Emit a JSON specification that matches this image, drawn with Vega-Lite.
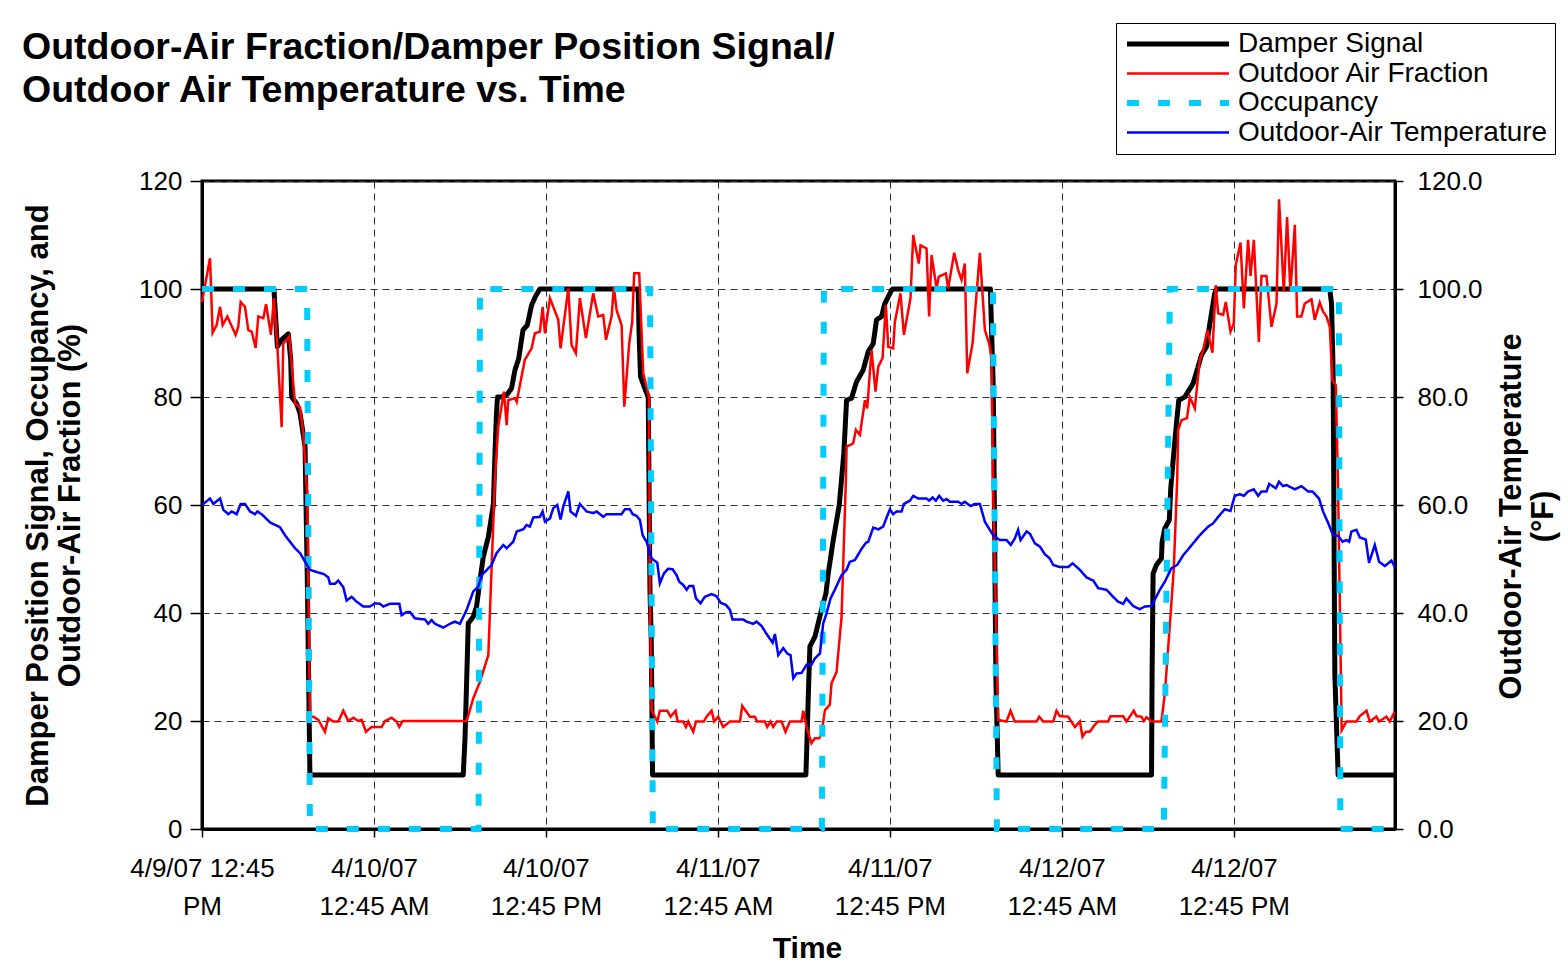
{
"$schema": "https://vega.github.io/schema/vega-lite/v6.json",
"width": 1193, "height": 648, "autosize": "none",
"padding": {"left": 202, "top": 181, "right": 173, "bottom": 146},
"background": "white",
"config": {"font": "Liberation Sans", "view": {"stroke": "black", "strokeWidth": 3}},
"title": {"text": ["Outdoor-Air Fraction/Damper Position Signal/", "Outdoor Air Temperature vs. Time"], "anchor": "start", "frame": "group", "dx": -180, "fontSize": 37.5, "fontWeight": "bold", "font": "Liberation Sans", "lineHeight": 43, "offset": -87, "color": "black"},
"data": {"values": [
{"s":"Damper Signal","t":0,"v":100},{"s":"Damper Signal","t":5.02,"v":100},{"s":"Damper Signal","t":5.26,"v":89.3},{"s":"Damper Signal","t":5.56,"v":90.6},{"s":"Damper Signal","t":6.02,"v":91.7},{"s":"Damper Signal","t":6.19,"v":86.9},{"s":"Damper Signal","t":6.26,"v":80},{"s":"Damper Signal","t":6.6,"v":78.8},{"s":"Damper Signal","t":6.84,"v":77},{"s":"Damper Signal","t":7.19,"v":70.8},{"s":"Damper Signal","t":7.35,"v":46.1},{"s":"Damper Signal","t":7.53,"v":10},{"s":"Damper Signal","t":18.23,"v":10},{"s":"Damper Signal","t":18.35,"v":16.5},{"s":"Damper Signal","t":18.47,"v":27.6},{"s":"Damper Signal","t":18.58,"v":38.1},{"s":"Damper Signal","t":18.93,"v":39.3},{"s":"Damper Signal","t":19.16,"v":41.2},{"s":"Damper Signal","t":19.4,"v":46.1},{"s":"Damper Signal","t":19.63,"v":50.4},{"s":"Damper Signal","t":19.98,"v":54.1},{"s":"Damper Signal","t":20.33,"v":60},{"s":"Damper Signal","t":20.45,"v":70},{"s":"Damper Signal","t":20.55,"v":77},{"s":"Damper Signal","t":20.62,"v":80},{"s":"Damper Signal","t":20.9,"v":80},{"s":"Damper Signal","t":21.3,"v":80.5},{"s":"Damper Signal","t":21.6,"v":81.6},{"s":"Damper Signal","t":21.84,"v":85},{"s":"Damper Signal","t":22.1,"v":87.1},{"s":"Damper Signal","t":22.4,"v":92.4},{"s":"Damper Signal","t":22.7,"v":93.3},{"s":"Damper Signal","t":23.0,"v":97},{"s":"Damper Signal","t":23.3,"v":98.8},{"s":"Damper Signal","t":23.58,"v":100},{"s":"Damper Signal","t":30.44,"v":100},{"s":"Damper Signal","t":30.5,"v":91.8},{"s":"Damper Signal","t":30.6,"v":83.8},{"s":"Damper Signal","t":30.9,"v":81.6},{"s":"Damper Signal","t":31.14,"v":80},{"s":"Damper Signal","t":31.26,"v":44.3},{"s":"Damper Signal","t":31.35,"v":35},{"s":"Damper Signal","t":31.44,"v":10},{"s":"Damper Signal","t":42.14,"v":10},{"s":"Damper Signal","t":42.19,"v":14},{"s":"Damper Signal","t":42.3,"v":23.9},{"s":"Damper Signal","t":42.42,"v":33.8},{"s":"Damper Signal","t":42.77,"v":35.6},{"s":"Damper Signal","t":43.0,"v":38.1},{"s":"Damper Signal","t":43.23,"v":40.6},{"s":"Damper Signal","t":43.54,"v":43.6},{"s":"Damper Signal","t":43.7,"v":47.3},{"s":"Damper Signal","t":44.05,"v":53.5},{"s":"Damper Signal","t":44.47,"v":60},{"s":"Damper Signal","t":44.79,"v":69.6},{"s":"Damper Signal","t":44.98,"v":79.4},{"s":"Damper Signal","t":45.33,"v":79.8},{"s":"Damper Signal","t":45.67,"v":82.8},{"s":"Damper Signal","t":46.14,"v":85},{"s":"Damper Signal","t":46.49,"v":88.4},{"s":"Damper Signal","t":46.84,"v":89.9},{"s":"Damper Signal","t":47.07,"v":94.3},{"s":"Damper Signal","t":47.42,"v":94.9},{"s":"Damper Signal","t":47.65,"v":97.3},{"s":"Damper Signal","t":48.12,"v":99.8},{"s":"Damper Signal","t":48.2,"v":100},{"s":"Damper Signal","t":55.02,"v":100},{"s":"Damper Signal","t":55.09,"v":93},{"s":"Damper Signal","t":55.21,"v":82.5},{"s":"Damper Signal","t":55.26,"v":70.2},{"s":"Damper Signal","t":55.4,"v":27.6},{"s":"Damper Signal","t":55.56,"v":10},{"s":"Damper Signal","t":66.26,"v":10},{"s":"Damper Signal","t":66.3,"v":28.8},{"s":"Damper Signal","t":66.37,"v":47.3},{"s":"Damper Signal","t":66.6,"v":48.9},{"s":"Damper Signal","t":66.95,"v":50.1},{"s":"Damper Signal","t":67.0,"v":53.2},{"s":"Damper Signal","t":67.19,"v":55.7},{"s":"Damper Signal","t":67.5,"v":57.2},{"s":"Damper Signal","t":67.6,"v":63},{"s":"Damper Signal","t":67.77,"v":68.3},{"s":"Damper Signal","t":68.0,"v":75.1},{"s":"Damper Signal","t":68.16,"v":79.4},{"s":"Damper Signal","t":68.58,"v":80},{"s":"Damper Signal","t":69.16,"v":82.5},{"s":"Damper Signal","t":69.51,"v":85.6},{"s":"Damper Signal","t":69.75,"v":87.8},{"s":"Damper Signal","t":70.09,"v":89.3},{"s":"Damper Signal","t":70.33,"v":93.6},{"s":"Damper Signal","t":70.67,"v":99.2},{"s":"Damper Signal","t":70.79,"v":100},{"s":"Damper Signal","t":78.7,"v":100},{"s":"Damper Signal","t":78.82,"v":97.3},{"s":"Damper Signal","t":78.93,"v":85},{"s":"Damper Signal","t":78.98,"v":62.8},{"s":"Damper Signal","t":79.05,"v":28.8},{"s":"Damper Signal","t":79.28,"v":10},{"s":"Damper Signal","t":83.25,"v":10},
{"s":"Outdoor Air Fraction","t":0,"v":97.6},{"s":"Outdoor Air Fraction","t":0.56,"v":105.7},{"s":"Outdoor Air Fraction","t":0.74,"v":91.9},{"s":"Outdoor Air Fraction","t":1.02,"v":93.3},{"s":"Outdoor Air Fraction","t":1.26,"v":96.7},{"s":"Outdoor Air Fraction","t":1.44,"v":93.3},{"s":"Outdoor Air Fraction","t":1.77,"v":94.9},{"s":"Outdoor Air Fraction","t":2.35,"v":91.5},{"s":"Outdoor Air Fraction","t":2.53,"v":93},{"s":"Outdoor Air Fraction","t":2.7,"v":97.6},{"s":"Outdoor Air Fraction","t":3.0,"v":96.7},{"s":"Outdoor Air Fraction","t":3.23,"v":92.4},{"s":"Outdoor Air Fraction","t":3.47,"v":92.1},{"s":"Outdoor Air Fraction","t":3.74,"v":89.1},{"s":"Outdoor Air Fraction","t":3.93,"v":94.9},{"s":"Outdoor Air Fraction","t":4.28,"v":94.6},{"s":"Outdoor Air Fraction","t":4.47,"v":97.2},{"s":"Outdoor Air Fraction","t":4.81,"v":91.5},{"s":"Outdoor Air Fraction","t":5.02,"v":98.3},{"s":"Outdoor Air Fraction","t":5.26,"v":89.3},{"s":"Outdoor Air Fraction","t":5.56,"v":74.4},{"s":"Outdoor Air Fraction","t":5.67,"v":89.9},{"s":"Outdoor Air Fraction","t":6.09,"v":91.2},{"s":"Outdoor Air Fraction","t":6.49,"v":78.8},{"s":"Outdoor Air Fraction","t":6.84,"v":78.1},{"s":"Outdoor Air Fraction","t":7.07,"v":73.3},{"s":"Outdoor Air Fraction","t":7.35,"v":61.5},{"s":"Outdoor Air Fraction","t":7.53,"v":20.8},{"s":"Outdoor Air Fraction","t":7.77,"v":20.8},{"s":"Outdoor Air Fraction","t":8.12,"v":20.2},{"s":"Outdoor Air Fraction","t":8.58,"v":18},{"s":"Outdoor Air Fraction","t":8.81,"v":20.5},{"s":"Outdoor Air Fraction","t":9.16,"v":19.9},{"s":"Outdoor Air Fraction","t":9.51,"v":19.9},{"s":"Outdoor Air Fraction","t":9.86,"v":21.9},{"s":"Outdoor Air Fraction","t":10.21,"v":20},{"s":"Outdoor Air Fraction","t":10.56,"v":20.6},{"s":"Outdoor Air Fraction","t":10.91,"v":20},{"s":"Outdoor Air Fraction","t":11.14,"v":20.2},{"s":"Outdoor Air Fraction","t":11.44,"v":18},{"s":"Outdoor Air Fraction","t":11.84,"v":18.9},{"s":"Outdoor Air Fraction","t":12.54,"v":18.9},{"s":"Outdoor Air Fraction","t":12.77,"v":20},{"s":"Outdoor Air Fraction","t":13.23,"v":20.6},{"s":"Outdoor Air Fraction","t":13.58,"v":19.9},{"s":"Outdoor Air Fraction","t":13.77,"v":18.9},{"s":"Outdoor Air Fraction","t":14.0,"v":20},{"s":"Outdoor Air Fraction","t":18.47,"v":20},{"s":"Outdoor Air Fraction","t":18.93,"v":24.2},{"s":"Outdoor Air Fraction","t":19.4,"v":27.3},{"s":"Outdoor Air Fraction","t":19.98,"v":32.2},{"s":"Outdoor Air Fraction","t":20.44,"v":64.6},{"s":"Outdoor Air Fraction","t":20.67,"v":74.5},{"s":"Outdoor Air Fraction","t":21.07,"v":81},{"s":"Outdoor Air Fraction","t":21.26,"v":74.8},{"s":"Outdoor Air Fraction","t":21.37,"v":79.4},{"s":"Outdoor Air Fraction","t":21.84,"v":79.8},{"s":"Outdoor Air Fraction","t":21.96,"v":79.1},{"s":"Outdoor Air Fraction","t":22.3,"v":83.8},{"s":"Outdoor Air Fraction","t":22.53,"v":86.9},{"s":"Outdoor Air Fraction","t":23.0,"v":89},{"s":"Outdoor Air Fraction","t":23.23,"v":91.8},{"s":"Outdoor Air Fraction","t":23.58,"v":92.1},{"s":"Outdoor Air Fraction","t":23.77,"v":96.7},{"s":"Outdoor Air Fraction","t":23.93,"v":91.8},{"s":"Outdoor Air Fraction","t":24.28,"v":98.3},{"s":"Outdoor Air Fraction","t":24.86,"v":94.3},{"s":"Outdoor Air Fraction","t":25.02,"v":89},{"s":"Outdoor Air Fraction","t":25.56,"v":100.1},{"s":"Outdoor Air Fraction","t":25.79,"v":89.6},{"s":"Outdoor Air Fraction","t":26.09,"v":88.1},{"s":"Outdoor Air Fraction","t":26.37,"v":98.3},{"s":"Outdoor Air Fraction","t":26.79,"v":90.9},{"s":"Outdoor Air Fraction","t":27.3,"v":99.2},{"s":"Outdoor Air Fraction","t":27.65,"v":94.9},{"s":"Outdoor Air Fraction","t":28.0,"v":95.2},{"s":"Outdoor Air Fraction","t":28.19,"v":90.6},{"s":"Outdoor Air Fraction","t":28.58,"v":94.9},{"s":"Outdoor Air Fraction","t":28.74,"v":100.4},{"s":"Outdoor Air Fraction","t":28.93,"v":96.1},{"s":"Outdoor Air Fraction","t":29.28,"v":93.3},{"s":"Outdoor Air Fraction","t":29.47,"v":78.2},{"s":"Outdoor Air Fraction","t":29.81,"v":89.9},{"s":"Outdoor Air Fraction","t":30.02,"v":93.9},{"s":"Outdoor Air Fraction","t":30.16,"v":102.9},{"s":"Outdoor Air Fraction","t":30.51,"v":102.9},{"s":"Outdoor Air Fraction","t":30.79,"v":84.4},{"s":"Outdoor Air Fraction","t":31.02,"v":81.9},{"s":"Outdoor Air Fraction","t":31.19,"v":80},{"s":"Outdoor Air Fraction","t":31.26,"v":43},{"s":"Outdoor Air Fraction","t":31.37,"v":22},{"s":"Outdoor Air Fraction","t":31.77,"v":19.9},{"s":"Outdoor Air Fraction","t":31.95,"v":21.9},{"s":"Outdoor Air Fraction","t":32.47,"v":21.9},{"s":"Outdoor Air Fraction","t":32.7,"v":20.8},{"s":"Outdoor Air Fraction","t":33.05,"v":21.9},{"s":"Outdoor Air Fraction","t":33.19,"v":19.9},{"s":"Outdoor Air Fraction","t":33.58,"v":19.9},{"s":"Outdoor Air Fraction","t":33.77,"v":18.9},{"s":"Outdoor Air Fraction","t":33.93,"v":19.9},{"s":"Outdoor Air Fraction","t":34.28,"v":18},{"s":"Outdoor Air Fraction","t":34.47,"v":19.9},{"s":"Outdoor Air Fraction","t":35.02,"v":19.9},{"s":"Outdoor Air Fraction","t":35.21,"v":20.8},{"s":"Outdoor Air Fraction","t":35.56,"v":21.9},{"s":"Outdoor Air Fraction","t":35.74,"v":19.9},{"s":"Outdoor Air Fraction","t":36.02,"v":20.8},{"s":"Outdoor Air Fraction","t":36.37,"v":18.9},{"s":"Outdoor Air Fraction","t":36.84,"v":19.9},{"s":"Outdoor Air Fraction","t":37.54,"v":19.9},{"s":"Outdoor Air Fraction","t":37.7,"v":22.8},{"s":"Outdoor Air Fraction","t":38.23,"v":20.8},{"s":"Outdoor Air Fraction","t":38.58,"v":20.8},{"s":"Outdoor Air Fraction","t":38.74,"v":19.9},{"s":"Outdoor Air Fraction","t":39.28,"v":19.9},{"s":"Outdoor Air Fraction","t":39.44,"v":18.9},{"s":"Outdoor Air Fraction","t":39.67,"v":19.9},{"s":"Outdoor Air Fraction","t":39.86,"v":18.9},{"s":"Outdoor Air Fraction","t":40.1,"v":19.9},{"s":"Outdoor Air Fraction","t":40.44,"v":19.9},{"s":"Outdoor Air Fraction","t":40.72,"v":18},{"s":"Outdoor Air Fraction","t":41.02,"v":19.9},{"s":"Outdoor Air Fraction","t":41.84,"v":19.9},{"s":"Outdoor Air Fraction","t":41.95,"v":21.9},{"s":"Outdoor Air Fraction","t":42.19,"v":18.9},{"s":"Outdoor Air Fraction","t":42.53,"v":15.9},{"s":"Outdoor Air Fraction","t":42.77,"v":16.8},{"s":"Outdoor Air Fraction","t":43.07,"v":16.8},{"s":"Outdoor Air Fraction","t":43.23,"v":17.7},{"s":"Outdoor Air Fraction","t":43.47,"v":22},{"s":"Outdoor Air Fraction","t":43.81,"v":23},{"s":"Outdoor Air Fraction","t":43.93,"v":27},{"s":"Outdoor Air Fraction","t":44.28,"v":29.1},{"s":"Outdoor Air Fraction","t":44.63,"v":39.3},{"s":"Outdoor Air Fraction","t":44.93,"v":64.6},{"s":"Outdoor Air Fraction","t":44.98,"v":70.8},{"s":"Outdoor Air Fraction","t":45.44,"v":71.4},{"s":"Outdoor Air Fraction","t":45.63,"v":73.9},{"s":"Outdoor Air Fraction","t":45.91,"v":73},{"s":"Outdoor Air Fraction","t":46.26,"v":79.4},{"s":"Outdoor Air Fraction","t":46.42,"v":77.9},{"s":"Outdoor Air Fraction","t":46.72,"v":88.7},{"s":"Outdoor Air Fraction","t":47.0,"v":81},{"s":"Outdoor Air Fraction","t":47.19,"v":85.6},{"s":"Outdoor Air Fraction","t":47.49,"v":87.2},{"s":"Outdoor Air Fraction","t":47.72,"v":97},{"s":"Outdoor Air Fraction","t":47.89,"v":89.3},{"s":"Outdoor Air Fraction","t":48.23,"v":89},{"s":"Outdoor Air Fraction","t":48.35,"v":93.9},{"s":"Outdoor Air Fraction","t":48.74,"v":99.2},{"s":"Outdoor Air Fraction","t":48.98,"v":91.5},{"s":"Outdoor Air Fraction","t":49.44,"v":98.3},{"s":"Outdoor Air Fraction","t":49.63,"v":110},{"s":"Outdoor Air Fraction","t":50.02,"v":104.7},{"s":"Outdoor Air Fraction","t":50.14,"v":108.1},{"s":"Outdoor Air Fraction","t":50.56,"v":107.5},{"s":"Outdoor Air Fraction","t":50.74,"v":94.9},{"s":"Outdoor Air Fraction","t":50.91,"v":106.3},{"s":"Outdoor Air Fraction","t":51.26,"v":100.1},{"s":"Outdoor Air Fraction","t":51.42,"v":102.3},{"s":"Outdoor Air Fraction","t":51.91,"v":102.9},{"s":"Outdoor Air Fraction","t":52.07,"v":100.1},{"s":"Outdoor Air Fraction","t":52.49,"v":106.7},{"s":"Outdoor Air Fraction","t":52.77,"v":103.5},{"s":"Outdoor Air Fraction","t":53.0,"v":101.7},{"s":"Outdoor Air Fraction","t":53.23,"v":104.7},{"s":"Outdoor Air Fraction","t":53.4,"v":84.4},{"s":"Outdoor Air Fraction","t":53.77,"v":89.9},{"s":"Outdoor Air Fraction","t":54.28,"v":106.7},{"s":"Outdoor Air Fraction","t":54.63,"v":92.4},{"s":"Outdoor Air Fraction","t":54.93,"v":89.9},{"s":"Outdoor Air Fraction","t":55.09,"v":87.5},{"s":"Outdoor Air Fraction","t":55.21,"v":62.8},{"s":"Outdoor Air Fraction","t":55.56,"v":20.2},{"s":"Outdoor Air Fraction","t":56.14,"v":19.9},{"s":"Outdoor Air Fraction","t":56.42,"v":21.9},{"s":"Outdoor Air Fraction","t":56.72,"v":19.9},{"s":"Outdoor Air Fraction","t":58.24,"v":19.9},{"s":"Outdoor Air Fraction","t":58.42,"v":20.8},{"s":"Outdoor Air Fraction","t":58.7,"v":19.9},{"s":"Outdoor Air Fraction","t":59.4,"v":19.9},{"s":"Outdoor Air Fraction","t":59.63,"v":21.9},{"s":"Outdoor Air Fraction","t":59.86,"v":20.9},{"s":"Outdoor Air Fraction","t":60.44,"v":20.8},{"s":"Outdoor Air Fraction","t":60.91,"v":18.9},{"s":"Outdoor Air Fraction","t":61.26,"v":19.9},{"s":"Outdoor Air Fraction","t":61.44,"v":17.1},{"s":"Outdoor Air Fraction","t":61.67,"v":18},{"s":"Outdoor Air Fraction","t":61.95,"v":18},{"s":"Outdoor Air Fraction","t":62.3,"v":19.3},{"s":"Outdoor Air Fraction","t":62.53,"v":19.9},{"s":"Outdoor Air Fraction","t":63.23,"v":19.9},{"s":"Outdoor Air Fraction","t":63.4,"v":20.9},{"s":"Outdoor Air Fraction","t":64.28,"v":20.9},{"s":"Outdoor Air Fraction","t":64.51,"v":19.9},{"s":"Outdoor Air Fraction","t":65.02,"v":21.9},{"s":"Outdoor Air Fraction","t":65.21,"v":20.9},{"s":"Outdoor Air Fraction","t":65.56,"v":20.8},{"s":"Outdoor Air Fraction","t":65.72,"v":20},{"s":"Outdoor Air Fraction","t":65.91,"v":20.7},{"s":"Outdoor Air Fraction","t":66.26,"v":19.9},{"s":"Outdoor Air Fraction","t":66.95,"v":19.9},{"s":"Outdoor Air Fraction","t":67.19,"v":25.1},{"s":"Outdoor Air Fraction","t":67.53,"v":37.5},{"s":"Outdoor Air Fraction","t":67.81,"v":48},{"s":"Outdoor Air Fraction","t":68.05,"v":64.6},{"s":"Outdoor Air Fraction","t":68.12,"v":73.9},{"s":"Outdoor Air Fraction","t":68.35,"v":75.7},{"s":"Outdoor Air Fraction","t":68.74,"v":76.1},{"s":"Outdoor Air Fraction","t":68.93,"v":80},{"s":"Outdoor Air Fraction","t":69.28,"v":77.9},{"s":"Outdoor Air Fraction","t":69.63,"v":86.9},{"s":"Outdoor Air Fraction","t":69.86,"v":88.7},{"s":"Outdoor Air Fraction","t":70.16,"v":92.4},{"s":"Outdoor Air Fraction","t":70.51,"v":88.2},{"s":"Outdoor Air Fraction","t":70.74,"v":100.7},{"s":"Outdoor Air Fraction","t":70.91,"v":95.5},{"s":"Outdoor Air Fraction","t":71.26,"v":95.2},{"s":"Outdoor Air Fraction","t":71.44,"v":97.6},{"s":"Outdoor Air Fraction","t":71.77,"v":92.1},{"s":"Outdoor Air Fraction","t":72.0,"v":93.6},{"s":"Outdoor Air Fraction","t":72.14,"v":104.4},{"s":"Outdoor Air Fraction","t":72.47,"v":108.6},{"s":"Outdoor Air Fraction","t":72.7,"v":96.4},{"s":"Outdoor Air Fraction","t":73.0,"v":109.1},{"s":"Outdoor Air Fraction","t":73.17,"v":102.4},{"s":"Outdoor Air Fraction","t":73.4,"v":109.1},{"s":"Outdoor Air Fraction","t":73.75,"v":90.2},{"s":"Outdoor Air Fraction","t":73.93,"v":102.4},{"s":"Outdoor Air Fraction","t":74.28,"v":102.4},{"s":"Outdoor Air Fraction","t":74.63,"v":93},{"s":"Outdoor Air Fraction","t":74.98,"v":97.3},{"s":"Outdoor Air Fraction","t":75.16,"v":116.6},{"s":"Outdoor Air Fraction","t":75.49,"v":99.5},{"s":"Outdoor Air Fraction","t":75.72,"v":113.3},{"s":"Outdoor Air Fraction","t":75.95,"v":99.5},{"s":"Outdoor Air Fraction","t":76.26,"v":111.9},{"s":"Outdoor Air Fraction","t":76.42,"v":94.9},{"s":"Outdoor Air Fraction","t":76.72,"v":94.9},{"s":"Outdoor Air Fraction","t":76.95,"v":97.3},{"s":"Outdoor Air Fraction","t":77.42,"v":98.1},{"s":"Outdoor Air Fraction","t":77.65,"v":94.3},{"s":"Outdoor Air Fraction","t":78.0,"v":97.5},{"s":"Outdoor Air Fraction","t":78.23,"v":95.8},{"s":"Outdoor Air Fraction","t":78.47,"v":94.9},{"s":"Outdoor Air Fraction","t":78.7,"v":93},{"s":"Outdoor Air Fraction","t":78.88,"v":83.1},{"s":"Outdoor Air Fraction","t":79.12,"v":82.2},{"s":"Outdoor Air Fraction","t":79.28,"v":62.8},{"s":"Outdoor Air Fraction","t":79.53,"v":18.3},{"s":"Outdoor Air Fraction","t":79.86,"v":19.9},{"s":"Outdoor Air Fraction","t":80.56,"v":19.9},{"s":"Outdoor Air Fraction","t":80.79,"v":20.9},{"s":"Outdoor Air Fraction","t":81.26,"v":21.9},{"s":"Outdoor Air Fraction","t":81.49,"v":19.9},{"s":"Outdoor Air Fraction","t":81.95,"v":20.8},{"s":"Outdoor Air Fraction","t":82.14,"v":19.9},{"s":"Outdoor Air Fraction","t":82.65,"v":20.8},{"s":"Outdoor Air Fraction","t":82.88,"v":19.9},{"s":"Outdoor Air Fraction","t":83.23,"v":21.7},
{"s":"Occupancy","t":0,"v":100},{"s":"Occupancy","t":7.33,"v":100},{"s":"Occupancy","t":7.53,"v":0},{"s":"Occupancy","t":19.3,"v":0},{"s":"Occupancy","t":19.4,"v":100},{"s":"Occupancy","t":31.26,"v":100},{"s":"Occupancy","t":31.46,"v":0},{"s":"Occupancy","t":43.26,"v":0},{"s":"Occupancy","t":43.4,"v":100},{"s":"Occupancy","t":55.19,"v":100},{"s":"Occupancy","t":55.47,"v":0},{"s":"Occupancy","t":67.12,"v":0},{"s":"Occupancy","t":67.54,"v":100},{"s":"Occupancy","t":79.33,"v":100},{"s":"Occupancy","t":79.44,"v":0},{"s":"Occupancy","t":83.25,"v":0},
{"s":"Outdoor-Air Temperature","t":0,"v":60},{"s":"Outdoor-Air Temperature","t":0.56,"v":61.2},{"s":"Outdoor-Air Temperature","t":0.79,"v":60.2},{"s":"Outdoor-Air Temperature","t":1.26,"v":61.2},{"s":"Outdoor-Air Temperature","t":1.49,"v":59.1},{"s":"Outdoor-Air Temperature","t":1.84,"v":58.3},{"s":"Outdoor-Air Temperature","t":2.07,"v":58.8},{"s":"Outdoor-Air Temperature","t":2.42,"v":58.3},{"s":"Outdoor-Air Temperature","t":2.7,"v":60.2},{"s":"Outdoor-Air Temperature","t":3.0,"v":60.2},{"s":"Outdoor-Air Temperature","t":3.35,"v":58.8},{"s":"Outdoor-Air Temperature","t":3.7,"v":58.3},{"s":"Outdoor-Air Temperature","t":3.86,"v":58.8},{"s":"Outdoor-Air Temperature","t":4.16,"v":58.3},{"s":"Outdoor-Air Temperature","t":4.47,"v":57.5},{"s":"Outdoor-Air Temperature","t":4.79,"v":56.7},{"s":"Outdoor-Air Temperature","t":5.44,"v":55.9},{"s":"Outdoor-Air Temperature","t":5.79,"v":54.4},{"s":"Outdoor-Air Temperature","t":6.14,"v":53.2},{"s":"Outdoor-Air Temperature","t":6.49,"v":52},{"s":"Outdoor-Air Temperature","t":6.84,"v":51.1},{"s":"Outdoor-Air Temperature","t":7.19,"v":49.5},{"s":"Outdoor-Air Temperature","t":7.53,"v":48},{"s":"Outdoor-Air Temperature","t":8.0,"v":47.6},{"s":"Outdoor-Air Temperature","t":8.51,"v":47.2},{"s":"Outdoor-Air Temperature","t":8.81,"v":46.6},{"s":"Outdoor-Air Temperature","t":8.93,"v":45.4},{"s":"Outdoor-Air Temperature","t":9.28,"v":45.4},{"s":"Outdoor-Air Temperature","t":9.51,"v":46},{"s":"Outdoor-Air Temperature","t":9.86,"v":44.8},{"s":"Outdoor-Air Temperature","t":10.09,"v":42.3},{"s":"Outdoor-Air Temperature","t":10.44,"v":43},{"s":"Outdoor-Air Temperature","t":10.79,"v":42.1},{"s":"Outdoor-Air Temperature","t":11.26,"v":41.2},{"s":"Outdoor-Air Temperature","t":11.72,"v":41.2},{"s":"Outdoor-Air Temperature","t":12.07,"v":41.8},{"s":"Outdoor-Air Temperature","t":12.42,"v":41.7},{"s":"Outdoor-Air Temperature","t":12.65,"v":41.2},{"s":"Outdoor-Air Temperature","t":13.12,"v":41.7},{"s":"Outdoor-Air Temperature","t":13.77,"v":41.7},{"s":"Outdoor-Air Temperature","t":13.93,"v":39.6},{"s":"Outdoor-Air Temperature","t":14.28,"v":40.2},{"s":"Outdoor-Air Temperature","t":14.51,"v":40.2},{"s":"Outdoor-Air Temperature","t":14.86,"v":39},{"s":"Outdoor-Air Temperature","t":15.56,"v":38.8},{"s":"Outdoor-Air Temperature","t":15.79,"v":38},{"s":"Outdoor-Air Temperature","t":16.02,"v":38.7},{"s":"Outdoor-Air Temperature","t":16.26,"v":38},{"s":"Outdoor-Air Temperature","t":16.84,"v":37.3},{"s":"Outdoor-Air Temperature","t":17.3,"v":38},{"s":"Outdoor-Air Temperature","t":17.65,"v":38.4},{"s":"Outdoor-Air Temperature","t":18.0,"v":38},{"s":"Outdoor-Air Temperature","t":18.47,"v":40.6},{"s":"Outdoor-Air Temperature","t":18.93,"v":44},{"s":"Outdoor-Air Temperature","t":19.28,"v":44.9},{"s":"Outdoor-Air Temperature","t":19.51,"v":47},{"s":"Outdoor-Air Temperature","t":20.21,"v":48.9},{"s":"Outdoor-Air Temperature","t":20.56,"v":51.1},{"s":"Outdoor-Air Temperature","t":21.02,"v":52.6},{"s":"Outdoor-Air Temperature","t":21.26,"v":52},{"s":"Outdoor-Air Temperature","t":21.72,"v":53.2},{"s":"Outdoor-Air Temperature","t":21.96,"v":55.1},{"s":"Outdoor-Air Temperature","t":22.42,"v":55.5},{"s":"Outdoor-Air Temperature","t":22.65,"v":56.3},{"s":"Outdoor-Air Temperature","t":22.88,"v":56},{"s":"Outdoor-Air Temperature","t":23.12,"v":57.7},{"s":"Outdoor-Air Temperature","t":23.58,"v":57.8},{"s":"Outdoor-Air Temperature","t":23.77,"v":58.8},{"s":"Outdoor-Air Temperature","t":23.93,"v":56.9},{"s":"Outdoor-Air Temperature","t":24.28,"v":57.5},{"s":"Outdoor-Air Temperature","t":24.51,"v":59.4},{"s":"Outdoor-Air Temperature","t":24.79,"v":60},{"s":"Outdoor-Air Temperature","t":25.02,"v":57.3},{"s":"Outdoor-Air Temperature","t":25.21,"v":59.7},{"s":"Outdoor-Air Temperature","t":25.56,"v":62.5},{"s":"Outdoor-Air Temperature","t":25.72,"v":58.8},{"s":"Outdoor-Air Temperature","t":26.09,"v":58},{"s":"Outdoor-Air Temperature","t":26.37,"v":60.2},{"s":"Outdoor-Air Temperature","t":26.84,"v":58.8},{"s":"Outdoor-Air Temperature","t":27.3,"v":58.5},{"s":"Outdoor-Air Temperature","t":27.54,"v":58.8},{"s":"Outdoor-Air Temperature","t":28.0,"v":57.8},{"s":"Outdoor-Air Temperature","t":28.23,"v":58.3},{"s":"Outdoor-Air Temperature","t":29.28,"v":58.3},{"s":"Outdoor-Air Temperature","t":29.51,"v":59.2},{"s":"Outdoor-Air Temperature","t":29.86,"v":59.2},{"s":"Outdoor-Air Temperature","t":30.05,"v":58.3},{"s":"Outdoor-Air Temperature","t":30.33,"v":58},{"s":"Outdoor-Air Temperature","t":30.56,"v":57.2},{"s":"Outdoor-Air Temperature","t":30.75,"v":54.4},{"s":"Outdoor-Air Temperature","t":31.02,"v":53.2},{"s":"Outdoor-Air Temperature","t":31.37,"v":50.1},{"s":"Outdoor-Air Temperature","t":31.77,"v":49.3},{"s":"Outdoor-Air Temperature","t":31.95,"v":45.5},{"s":"Outdoor-Air Temperature","t":32.23,"v":47.3},{"s":"Outdoor-Air Temperature","t":32.53,"v":48.2},{"s":"Outdoor-Air Temperature","t":32.84,"v":48.1},{"s":"Outdoor-Air Temperature","t":33.12,"v":47},{"s":"Outdoor-Air Temperature","t":33.3,"v":45.8},{"s":"Outdoor-Air Temperature","t":33.58,"v":45.2},{"s":"Outdoor-Air Temperature","t":33.82,"v":44.3},{"s":"Outdoor-Air Temperature","t":34.0,"v":45},{"s":"Outdoor-Air Temperature","t":34.28,"v":45},{"s":"Outdoor-Air Temperature","t":34.47,"v":42.7},{"s":"Outdoor-Air Temperature","t":34.79,"v":41.8},{"s":"Outdoor-Air Temperature","t":35.09,"v":43},{"s":"Outdoor-Air Temperature","t":35.56,"v":43.5},{"s":"Outdoor-Air Temperature","t":35.91,"v":43.1},{"s":"Outdoor-Air Temperature","t":36.19,"v":41.9},{"s":"Outdoor-Air Temperature","t":36.56,"v":41.5},{"s":"Outdoor-Air Temperature","t":36.84,"v":40.6},{"s":"Outdoor-Air Temperature","t":37.02,"v":38.8},{"s":"Outdoor-Air Temperature","t":37.77,"v":38.8},{"s":"Outdoor-Air Temperature","t":38.0,"v":38.4},{"s":"Outdoor-Air Temperature","t":38.47,"v":38},{"s":"Outdoor-Air Temperature","t":38.7,"v":38.4},{"s":"Outdoor-Air Temperature","t":39.05,"v":37.6},{"s":"Outdoor-Air Temperature","t":39.4,"v":36.1},{"s":"Outdoor-Air Temperature","t":39.82,"v":34.5},{"s":"Outdoor-Air Temperature","t":39.98,"v":36.1},{"s":"Outdoor-Air Temperature","t":40.21,"v":32.2},{"s":"Outdoor-Air Temperature","t":40.56,"v":33.5},{"s":"Outdoor-Air Temperature","t":40.84,"v":32.5},{"s":"Outdoor-Air Temperature","t":41.07,"v":32.2},{"s":"Outdoor-Air Temperature","t":41.26,"v":27.9},{"s":"Outdoor-Air Temperature","t":41.49,"v":28.8},{"s":"Outdoor-Air Temperature","t":41.84,"v":28.9},{"s":"Outdoor-Air Temperature","t":42.19,"v":30.4},{"s":"Outdoor-Air Temperature","t":42.53,"v":30.4},{"s":"Outdoor-Air Temperature","t":42.77,"v":31.6},{"s":"Outdoor-Air Temperature","t":43.12,"v":32.5},{"s":"Outdoor-Air Temperature","t":43.35,"v":38.1},{"s":"Outdoor-Air Temperature","t":43.58,"v":39.9},{"s":"Outdoor-Air Temperature","t":43.86,"v":42.7},{"s":"Outdoor-Air Temperature","t":44.16,"v":44.3},{"s":"Outdoor-Air Temperature","t":44.63,"v":47},{"s":"Outdoor-Air Temperature","t":44.98,"v":48},{"s":"Outdoor-Air Temperature","t":45.21,"v":49.5},{"s":"Outdoor-Air Temperature","t":45.56,"v":49.8},{"s":"Outdoor-Air Temperature","t":46.03,"v":51.9},{"s":"Outdoor-Air Temperature","t":46.33,"v":53},{"s":"Outdoor-Air Temperature","t":46.49,"v":53.2},{"s":"Outdoor-Air Temperature","t":46.84,"v":55.8},{"s":"Outdoor-Air Temperature","t":47.19,"v":55.5},{"s":"Outdoor-Air Temperature","t":47.53,"v":56},{"s":"Outdoor-Air Temperature","t":48.0,"v":59.2},{"s":"Outdoor-Air Temperature","t":48.23,"v":58.3},{"s":"Outdoor-Air Temperature","t":48.47,"v":58.8},{"s":"Outdoor-Air Temperature","t":48.82,"v":58.8},{"s":"Outdoor-Air Temperature","t":48.98,"v":60.2},{"s":"Outdoor-Air Temperature","t":49.4,"v":60.8},{"s":"Outdoor-Air Temperature","t":49.63,"v":61.7},{"s":"Outdoor-Air Temperature","t":49.98,"v":61.2},{"s":"Outdoor-Air Temperature","t":50.56,"v":61.2},{"s":"Outdoor-Air Temperature","t":50.74,"v":60.8},{"s":"Outdoor-Air Temperature","t":50.98,"v":61.4},{"s":"Outdoor-Air Temperature","t":51.21,"v":60.8},{"s":"Outdoor-Air Temperature","t":51.44,"v":61.7},{"s":"Outdoor-Air Temperature","t":51.72,"v":60.8},{"s":"Outdoor-Air Temperature","t":51.96,"v":61.1},{"s":"Outdoor-Air Temperature","t":52.19,"v":60.6},{"s":"Outdoor-Air Temperature","t":52.77,"v":60.6},{"s":"Outdoor-Air Temperature","t":53.0,"v":60.2},{"s":"Outdoor-Air Temperature","t":53.23,"v":60.6},{"s":"Outdoor-Air Temperature","t":53.63,"v":59.8},{"s":"Outdoor-Air Temperature","t":53.93,"v":60.2},{"s":"Outdoor-Air Temperature","t":54.28,"v":60.2},{"s":"Outdoor-Air Temperature","t":54.63,"v":56.9},{"s":"Outdoor-Air Temperature","t":55.21,"v":54.4},{"s":"Outdoor-Air Temperature","t":55.68,"v":53.5},{"s":"Outdoor-Air Temperature","t":56.14,"v":53.5},{"s":"Outdoor-Air Temperature","t":56.44,"v":52.6},{"s":"Outdoor-Air Temperature","t":56.72,"v":53.8},{"s":"Outdoor-Air Temperature","t":56.95,"v":55.4},{"s":"Outdoor-Air Temperature","t":57.12,"v":53.5},{"s":"Outdoor-Air Temperature","t":57.54,"v":55.1},{"s":"Outdoor-Air Temperature","t":57.77,"v":54.7},{"s":"Outdoor-Air Temperature","t":58.12,"v":52.9},{"s":"Outdoor-Air Temperature","t":58.47,"v":52.3},{"s":"Outdoor-Air Temperature","t":58.81,"v":50.9},{"s":"Outdoor-Air Temperature","t":59.16,"v":50.1},{"s":"Outdoor-Air Temperature","t":59.4,"v":48.9},{"s":"Outdoor-Air Temperature","t":59.86,"v":48.5},{"s":"Outdoor-Air Temperature","t":60.44,"v":48.5},{"s":"Outdoor-Air Temperature","t":60.75,"v":49.2},{"s":"Outdoor-Air Temperature","t":61.26,"v":48},{"s":"Outdoor-Air Temperature","t":61.72,"v":46.6},{"s":"Outdoor-Air Temperature","t":62.19,"v":46},{"s":"Outdoor-Air Temperature","t":62.54,"v":44.6},{"s":"Outdoor-Air Temperature","t":63.12,"v":44.3},{"s":"Outdoor-Air Temperature","t":63.58,"v":43},{"s":"Outdoor-Air Temperature","t":63.93,"v":42.1},{"s":"Outdoor-Air Temperature","t":64.28,"v":41.7},{"s":"Outdoor-Air Temperature","t":64.51,"v":42.7},{"s":"Outdoor-Air Temperature","t":64.98,"v":41.3},{"s":"Outdoor-Air Temperature","t":65.44,"v":40.7},{"s":"Outdoor-Air Temperature","t":65.79,"v":41.2},{"s":"Outdoor-Air Temperature","t":66.26,"v":41.3},{"s":"Outdoor-Air Temperature","t":66.84,"v":44.3},{"s":"Outdoor-Air Temperature","t":67.19,"v":45.8},{"s":"Outdoor-Air Temperature","t":67.65,"v":48.3},{"s":"Outdoor-Air Temperature","t":68.05,"v":48.9},{"s":"Outdoor-Air Temperature","t":68.47,"v":50.7},{"s":"Outdoor-Air Temperature","t":68.82,"v":51.8},{"s":"Outdoor-Air Temperature","t":69.16,"v":52.9},{"s":"Outdoor-Air Temperature","t":69.63,"v":54.4},{"s":"Outdoor-Air Temperature","t":70.21,"v":56},{"s":"Outdoor-Air Temperature","t":70.56,"v":56.6},{"s":"Outdoor-Air Temperature","t":70.91,"v":57.8},{"s":"Outdoor-Air Temperature","t":71.37,"v":59.2},{"s":"Outdoor-Air Temperature","t":71.77,"v":58.9},{"s":"Outdoor-Air Temperature","t":72.07,"v":61.7},{"s":"Outdoor-Air Temperature","t":72.42,"v":62},{"s":"Outdoor-Air Temperature","t":72.7,"v":61.7},{"s":"Outdoor-Air Temperature","t":73.0,"v":62.5},{"s":"Outdoor-Air Temperature","t":73.4,"v":62.9},{"s":"Outdoor-Air Temperature","t":73.7,"v":61.7},{"s":"Outdoor-Air Temperature","t":73.93,"v":62.5},{"s":"Outdoor-Air Temperature","t":74.28,"v":62.5},{"s":"Outdoor-Air Temperature","t":74.47,"v":63.9},{"s":"Outdoor-Air Temperature","t":74.93,"v":63.1},{"s":"Outdoor-Air Temperature","t":75.16,"v":64.3},{"s":"Outdoor-Air Temperature","t":75.44,"v":63.5},{"s":"Outdoor-Air Temperature","t":75.67,"v":63.7},{"s":"Outdoor-Air Temperature","t":76.26,"v":62.9},{"s":"Outdoor-Air Temperature","t":76.72,"v":63.5},{"s":"Outdoor-Air Temperature","t":77.19,"v":62.5},{"s":"Outdoor-Air Temperature","t":77.49,"v":62.5},{"s":"Outdoor-Air Temperature","t":77.95,"v":61.2},{"s":"Outdoor-Air Temperature","t":78.23,"v":58.8},{"s":"Outdoor-Air Temperature","t":78.58,"v":56.7},{"s":"Outdoor-Air Temperature","t":78.93,"v":54.4},{"s":"Outdoor-Air Temperature","t":79.28,"v":54.3},{"s":"Outdoor-Air Temperature","t":79.59,"v":53.2},{"s":"Outdoor-Air Temperature","t":79.86,"v":53.5},{"s":"Outdoor-Air Temperature","t":80.05,"v":53.2},{"s":"Outdoor-Air Temperature","t":80.21,"v":55.1},{"s":"Outdoor-Air Temperature","t":80.56,"v":55.4},{"s":"Outdoor-Air Temperature","t":80.79,"v":54},{"s":"Outdoor-Air Temperature","t":81.21,"v":53.6},{"s":"Outdoor-Air Temperature","t":81.44,"v":49.3},{"s":"Outdoor-Air Temperature","t":81.84,"v":52.6},{"s":"Outdoor-Air Temperature","t":82.14,"v":49.5},{"s":"Outdoor-Air Temperature","t":82.54,"v":48.7},{"s":"Outdoor-Air Temperature","t":83.0,"v":49.7},{"s":"Outdoor-Air Temperature","t":83.25,"v":48.5}
]},
"encoding": {
  "x": {"field": "t", "type": "quantitative", "scale": {"domain": [0, 83.25], "nice": false, "zero": false},
    "axis": {"values": [0,12,24,36,48,60,72], "labelExpr": "datum.value == 0 ? ['4/9/07 12:45','PM'] : datum.value == 12 ? ['4/10/07','12:45 AM'] : datum.value == 24 ? ['4/10/07','12:45 PM'] : datum.value == 36 ? ['4/11/07','12:45 AM'] : datum.value == 48 ? ['4/11/07','12:45 PM'] : datum.value == 60 ? ['4/12/07','12:45 AM'] : ['4/12/07','12:45 PM']",
      "labelFontSize": 26, "labelLineHeight": 38, "labelColor": "black", "labelFlush": false, "labelOverlap": false, "labelBound": false, "labelPadding": 18,
      "tickSize": 8, "tickColor": "black", "tickWidth": 1.5, "domainColor": "black", "domainWidth": 3,
      "grid": true, "gridDash": [7,5], "gridColor": "#303030", "gridWidth": 1,
      "title": "Time", "titleFontSize": 30, "titleFontWeight": "bold", "titleColor": "black", "titlePadding": 14, "titleX": 605}},
  "color": {"field": "s", "type": "nominal",
    "scale": {"domain": ["Damper Signal","Outdoor Air Fraction","Occupancy","Outdoor-Air Temperature"], "range": ["#000000","#FF0000","#00CCFF","#0000FF"]},
    "legend": {"orient": "none", "legendX": 914, "legendY": -158, "title": null, "symbolType": "M-1,0H9.2", "symbolSize": 400, "labelFontSize": 28, "labelColor": "black", "labelOffset": 87, "labelLimit": 500, "rowPadding": 1.5, "padding": 7, "strokeColor": "black", "fillColor": "white", "symbolOpacity": 1}},
  "strokeDash": {"field": "s", "type": "nominal",
    "scale": {"domain": ["Damper Signal","Outdoor Air Fraction","Occupancy","Outdoor-Air Temperature"], "range": [[1,0],[1,0],[12,19],[1,0]]},
    "legend": {"orient": "none", "legendX": 914, "legendY": -158, "title": null, "symbolType": "M-1,0H9.2", "symbolSize": 400, "labelFontSize": 28, "labelColor": "black", "labelOffset": 87, "labelLimit": 500, "rowPadding": 1.5, "padding": 7, "strokeColor": "black", "fillColor": "white", "symbolOpacity": 1}},
  "strokeWidth": {"field": "s", "type": "nominal",
    "scale": {"type": "ordinal", "domain": ["Damper Signal","Outdoor Air Fraction","Occupancy","Outdoor-Air Temperature"], "range": [5,2.5,6,2.5]},
    "legend": {"orient": "none", "legendX": 914, "legendY": -158, "title": null, "symbolType": "M-1,0H9.2", "symbolSize": 400, "labelFontSize": 28, "labelColor": "black", "labelOffset": 87, "labelLimit": 500, "rowPadding": 1.5, "padding": 7, "strokeColor": "black", "fillColor": "white", "symbolOpacity": 1}}
},
"layer": [
  {
    "encoding": {"y": {"field": "v", "type": "quantitative", "scale": {"domain": [0,120], "nice": false},
      "axis": {"values": [0,20,40,60,80,100,120], "labelFontSize": 26, "labelColor": "black", "labelPadding": 8,
        "tickSize": 12, "tickColor": "black", "tickWidth": 1.5, "domainColor": "black", "domainWidth": 3,
        "grid": true, "gridDash": [7,5], "gridColor": "#303030", "gridWidth": 1,
        "title": ["Damper Position Signal, Occupancy, and", "Outdoor-Air Fraction (%)"], "titleFontSize": 31, "titleFontWeight": "bold", "titleColor": "black", "titleLineHeight": 32, "titlePadding": 52}}},
    "layer": [
      {"transform": [{"filter": "datum.s === 'Damper Signal'"}], "mark": {"type": "line", "strokeJoin": "round"}},
      {"transform": [{"filter": "datum.s === 'Outdoor Air Fraction'"}], "mark": {"type": "line"}},
      {"transform": [{"filter": "datum.s === 'Occupancy'"}], "mark": {"type": "line", "strokeCap": "butt"}}
    ]
  },
  {
    "transform": [{"filter": "datum.s === 'Outdoor-Air Temperature'"}],
    "mark": {"type": "line"},
    "encoding": {"y": {"field": "v", "type": "quantitative", "scale": {"domain": [0,120], "nice": false},
      "axis": {"orient": "right", "values": [0,20,40,60,80,100,120], "format": ".1f", "labelFontSize": 26, "labelColor": "black", "labelPadding": 14,
        "tickSize": 8, "tickColor": "black", "tickWidth": 1.5, "domainColor": "black", "domainWidth": 3, "grid": false,
        "title": ["Outdoor-Air Temperature", "(°F)"], "titleAngle": -90, "titleBaseline": "top", "titleFontSize": 30.7, "titleFontWeight": "bold", "titleColor": "black", "titleLineHeight": 32, "titleX": 101, "titleY": 335}}}
  }
],
"resolve": {"scale": {"y": "independent"}}
}
